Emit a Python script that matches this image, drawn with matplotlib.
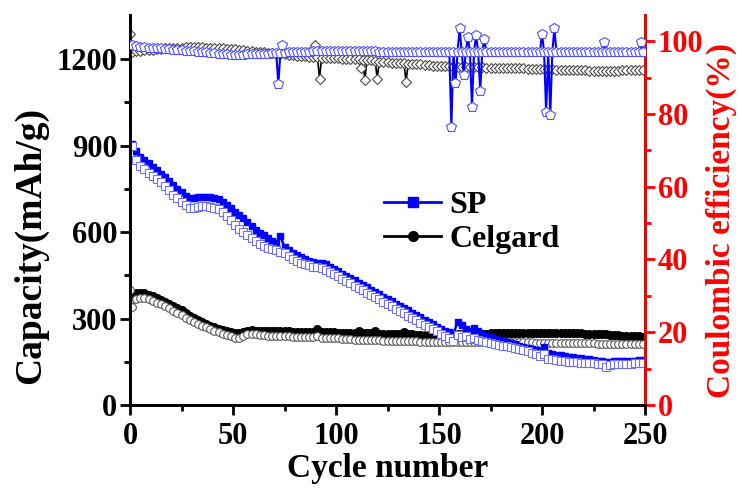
import numpy as np
import matplotlib
matplotlib.use("Agg")
import matplotlib.pyplot as plt
from matplotlib.lines import Line2D

plt.rcParams['font.family'] = ['Liberation Serif', 'DejaVu Serif']
plt.rcParams['font.weight'] = 'bold'

# ---- data ----
cycles = list(range(1, 250, 2))  # odd cycles 1..249

sp_charge = [
    905, 880, 862, 850, 838, 826, 814, 803, 790, 776,
    762, 750, 738, 726, 718, 718, 721, 722, 722, 721,
    718, 713, 704, 694, 684, 671, 660, 648, 634, 621,
    608, 598, 588, 578, 568, 562, 586, 548, 538, 528,
    520, 512, 505, 500, 496, 493, 491, 488, 480, 472,
    464, 456, 448, 440, 432, 424, 416, 408, 400, 392,
    384, 376, 368, 360, 352, 344, 336, 328, 320, 312,
    304, 296, 288, 280, 272, 265, 258, 252, 246, 289,
    277, 262, 258, 266, 256, 246, 240, 235, 230, 226,
    222, 218, 214, 210, 206, 202, 198, 194, 190, 186,
    202, 180, 177, 174, 172, 170, 168, 166, 164, 162,
    160, 158, 156, 154, 152, 150, 150, 151, 152, 153,
    153, 154, 154, 155, 155]

sp_discharge = [
    900, 850, 830, 818, 806, 794, 783, 773, 760, 745,
    730, 717, 705, 693, 684, 685, 688, 689, 689, 688,
    685, 680, 670, 656, 642, 626, 612, 600, 588, 578,
    568, 560, 552, 546, 540, 536, 532, 526, 516, 508,
    500, 494, 488, 484, 480, 478, 476, 470, 462, 454,
    446, 438, 430, 422, 414, 406, 398, 390, 382, 374,
    366, 358, 350, 342, 334, 326, 318, 310, 302, 294,
    286, 278, 270, 262, 255, 247, 240, 232, 222, 244,
    235, 240, 230, 234, 225, 222, 218, 215, 212, 209,
    206, 203, 200, 197, 194, 190, 186, 181, 176, 170,
    178, 160, 158, 156, 154, 152, 150, 149, 148, 147,
    146, 145, 144, 143, 142, 133, 140, 141, 142, 142,
    143, 143, 144, 144, 145]

celgard_charge = [
    378, 388, 390, 388, 383, 377, 371, 364, 357, 350,
    343, 336, 328, 319, 310, 302, 294, 287, 281, 275,
    270, 265, 261, 257, 253, 250, 249, 254, 258, 259,
    258, 257, 257, 256, 256, 256, 255, 255, 255, 254,
    254, 254, 254, 253, 253, 262, 253, 252, 252, 252,
    251, 251, 251, 250, 250, 258, 250, 249, 249, 255,
    248, 248, 247, 247, 246, 246, 254, 245, 245, 244,
    244, 244, 243, 243, 243, 243, 243, 244, 244, 245,
    245, 246, 246, 247, 247, 248, 248, 249, 249, 250,
    250, 250, 251, 251, 251, 251, 251, 251, 251, 251,
    251, 251, 251, 250, 250, 250, 250, 249, 249, 249,
    248, 248, 247, 247, 246, 245, 244, 243, 242, 241,
    240, 240, 239, 238, 237]

celgard_discharge = [
    341, 368, 372, 370, 366, 361, 355, 349, 342, 335,
    327, 319, 311, 303, 296, 289, 282, 275, 269, 263,
    257, 252, 247, 243, 238, 234, 231, 238, 246, 247,
    246, 244, 242, 241, 240, 239, 239, 238, 238, 237,
    237, 236, 236, 235, 235, 238, 234, 233, 233, 232,
    231, 230, 229, 228, 227, 226, 226, 225, 225, 224,
    224, 223, 223, 222, 222, 222, 221, 221, 221, 221,
    220, 220, 220, 220, 220, 220, 220, 219, 219, 219,
    219, 219, 219, 219, 218, 218, 218, 218, 218, 218,
    218, 218, 217, 217, 217, 217, 217, 217, 216, 216,
    216, 216, 216, 215, 215, 215, 215, 215, 214, 214,
    214, 214, 214, 213, 213, 213, 213, 213, 212, 212,
    212, 212, 212, 211, 211]
celgard_discharge_extra_cycles = [0]
celgard_discharge_extra_values = [399]

sp_ce = [
    98.9, 98.6, 98.4, 98.3, 98.2, 98.1, 98.0, 98.0, 97.9, 97.8,
    97.7, 97.6, 97.5, 97.4, 97.3, 97.2, 97.1, 97.0, 96.9, 96.8,
    96.7, 96.6, 96.5, 96.4, 96.3, 96.3, 96.3, 96.3, 96.4, 96.4,
    96.5, 96.5, 96.6, 96.6, 96.7, 96.7, 96.8, 96.8, 96.9, 96.9,
    97.0, 97.0, 97.1, 97.1, 97.2, 97.2, 97.3, 97.3, 97.3, 97.3,
    97.3, 97.3, 97.3, 97.3, 97.3, 97.3, 97.2, 97.2, 97.2, 97.2,
    97.1, 97.1, 97.1, 97.1, 97.1, 97.1, 97.1, 97.1, 97.1, 97.1,
    97.1, 97.1, 97.1, 97.1, 97.1, 97.1, 97.1, 97.1, 97.1, 97.1,
    97.1, 97.1, 97.1, 97.1, 97.1, 97.1, 97.1, 97.1, 97.1, 97.1,
    97.1, 97.1, 97.1, 97.1, 97.1, 97.1, 97.1, 97.1, 97.1, 97.1,
    97.1, 97.1, 97.1, 97.1, 97.1, 97.1, 97.1, 97.1, 97.1, 97.1,
    97.1, 97.1, 97.1, 97.1, 97.1, 97.0, 97.0, 97.0, 97.0, 97.0,
    97.0, 97.0, 97.0, 97.0, 97.0]
sp_ce_extra_cycles = [0, 72, 74, 156, 158, 160, 162, 164, 166, 168, 170, 172,
                      200, 202, 204, 206, 230, 248]
sp_ce_extra_values = [99.0, 88.2, 98.9, 76.3, 88.4, 103.6, 90.7, 101.2, 81.9, 101.6,
                      86.4, 100.5, 102.0, 80.5, 79.6, 103.5, 99.8, 99.8]

celgard_ce = [
    97.0, 97.2, 97.4, 97.5, 97.6, 97.7, 97.8, 97.9, 98.0, 98.0,
    98.1, 98.2, 98.2, 98.3, 98.3, 98.3, 98.3, 98.3, 98.2, 98.2,
    98.2, 98.1, 98.0, 97.9, 97.8, 97.8, 97.6, 97.5, 97.3, 97.2,
    97.1, 97.0, 96.9, 96.8, 96.7, 96.6, 96.5, 96.4, 96.3, 96.2,
    96.0, 95.9, 95.8, 95.7, 95.6, 95.6, 95.5, 95.5, 95.4, 95.3,
    95.3, 95.2, 95.2, 95.1, 95.0, 95.0, 94.9, 94.8, 94.7, 94.6,
    94.4, 94.3, 94.2, 94.1, 94.0, 94.0, 93.9, 93.8, 93.7, 93.6,
    93.6, 93.5, 93.4, 93.3, 93.2, 93.2, 93.1, 93.1, 93.0, 93.0,
    93.0, 92.9, 92.9, 92.8, 92.8, 92.8, 92.7, 92.7, 92.6, 92.6,
    92.6, 92.6, 92.5, 92.5, 92.5, 92.5, 92.4, 92.4, 92.4, 92.4,
    92.4, 92.3, 92.3, 92.2, 92.2, 92.2, 92.1, 92.1, 92.0, 92.0,
    92.0, 91.9, 91.9, 91.9, 91.9, 91.9, 91.9, 91.9, 91.9, 92.0,
    92.0, 92.0, 92.0, 92.0, 92.0]
celgard_ce_extra_cycles = [0, 90, 92, 112, 114, 120, 134]
celgard_ce_extra_values = [102.1, 98.9, 89.7, 92.5, 89.3, 89.7, 88.8]

series_labels = ["SP", "Celgard"]
x_ticks = [0, 50, 100, 150, 200, 250]
left_ticks = [0, 300, 600, 900, 1200]
right_ticks = [0, 20, 40, 60, 80, 100]


def merge(xs, ys, ex, ey):
    pairs = sorted(list(zip(xs, ys)) + list(zip(ex, ey)), key=lambda p: p[0])
    return [p[0] for p in pairs], [p[1] for p in pairs]


BLUE = '#0000ff'
RED = '#ff0000'

fig = plt.figure(figsize=(7.42, 4.88), dpi=100)
ax = fig.add_axes([0.1752, 0.1701, 0.6941, 0.7992])
ax2 = ax.twinx()

# capacity
ax.plot(cycles, celgard_charge, color='black', marker='o', ms=5.5, lw=1.5,
        mfc='black', mec='black', zorder=2)
cx, cy = merge(cycles, celgard_discharge, celgard_discharge_extra_cycles,
               celgard_discharge_extra_values)
ax.plot(cx, cy, color='black', marker='o', ms=5.5, lw=1.0,
        mfc='white', mec='#5a5a5a', mew=0.8, zorder=3)
ax.plot(cycles, sp_charge, color=BLUE, marker='s', ms=5, lw=1.8,
        mfc=BLUE, mec=BLUE, zorder=4)
ax.plot(cycles, sp_discharge, color=BLUE, marker='s', ms=5.5, lw=1.0,
        mfc='white', mec='#6f6fff', mew=0.8, zorder=5)

# coulombic efficiency
gx, gy = merge(cycles, celgard_ce, celgard_ce_extra_cycles, celgard_ce_extra_values)
ax2.plot(gx, gy, color='black', marker='D', ms=5.5, lw=1.2,
         mfc='white', mec='#4a4a4a', mew=0.8, zorder=2)
bx, by = merge(cycles, sp_ce, sp_ce_extra_cycles, sp_ce_extra_values)
ax2.plot(bx, by, color=BLUE, marker='p', ms=7, lw=1.5,
         mfc='white', mec='#5050ff', mew=0.8, zorder=3)

ax.set_xlim(0, 250)
ax.set_ylim(0, 1353)
ax2.set_ylim(0, 107.2)

ax.set_xticks(x_ticks)
ax.set_xticks([25, 75, 125, 175, 225], minor=True)
ax.set_yticks(left_ticks)
ax.set_yticks([150, 450, 750, 1050], minor=True)
ax2.set_yticks(right_ticks)
ax2.set_yticks([10, 30, 50, 70, 90], minor=True)

for a in (ax, ax2):
    for s in a.spines.values():
        s.set_linewidth(2)
ax2.spines['right'].set_color(RED)
ax.spines['top'].set_visible(False)
ax2.spines['top'].set_visible(False)

ax.tick_params(axis='both', which='major', direction='out', length=7, width=2,
               labelsize=22, pad=2)
ax.tick_params(axis='x', which='major', pad=5)
ax.tick_params(axis='both', which='minor', direction='out', length=4, width=2)
ax.tick_params(axis='x', which='both', top=False)
ax2.tick_params(axis='y', which='major', direction='out', length=7, width=2,
                labelsize=22, colors=RED, pad=2)
ax2.tick_params(axis='y', which='minor', direction='out', length=4, width=2,
                colors=RED)
for lab in ax.get_xticklabels() + ax.get_yticklabels() + ax2.get_yticklabels():
    lab.set_fontweight('bold')

ax.set_xlabel('Cycle number', fontsize=24, fontweight='bold', labelpad=2)
ax.set_ylabel('Capacity(mAh/g)', fontsize=27, fontweight='bold')
ax.yaxis.label.set_va('center')
ax.yaxis.set_label_coords(-0.194, 0.41)
ax2.set_ylabel('Coulombic efficiency(%)', fontsize=24, fontweight='bold',
               color=RED)
ax2.yaxis.label.set_va('center')
ax2.yaxis.set_label_coords(1.148, 0.474)

handles = [
    Line2D([], [], color=BLUE, marker='s', ms=7, lw=2, mfc=BLUE, mec=BLUE),
    Line2D([], [], color='black', marker='o', ms=7, lw=2, mfc='black', mec='black'),
]
leg = ax2.legend(handles, series_labels, loc='upper left',
                 bbox_to_anchor=(0.493, 0.55), frameon=False,
                 prop={'family': 'Liberation Serif', 'weight': 'bold', 'size': 23},
                 handlelength=1.8, handletextpad=0.25, labelspacing=0.15,
                 borderaxespad=0, borderpad=0)

fig.savefig('out.png', dpi=100)
